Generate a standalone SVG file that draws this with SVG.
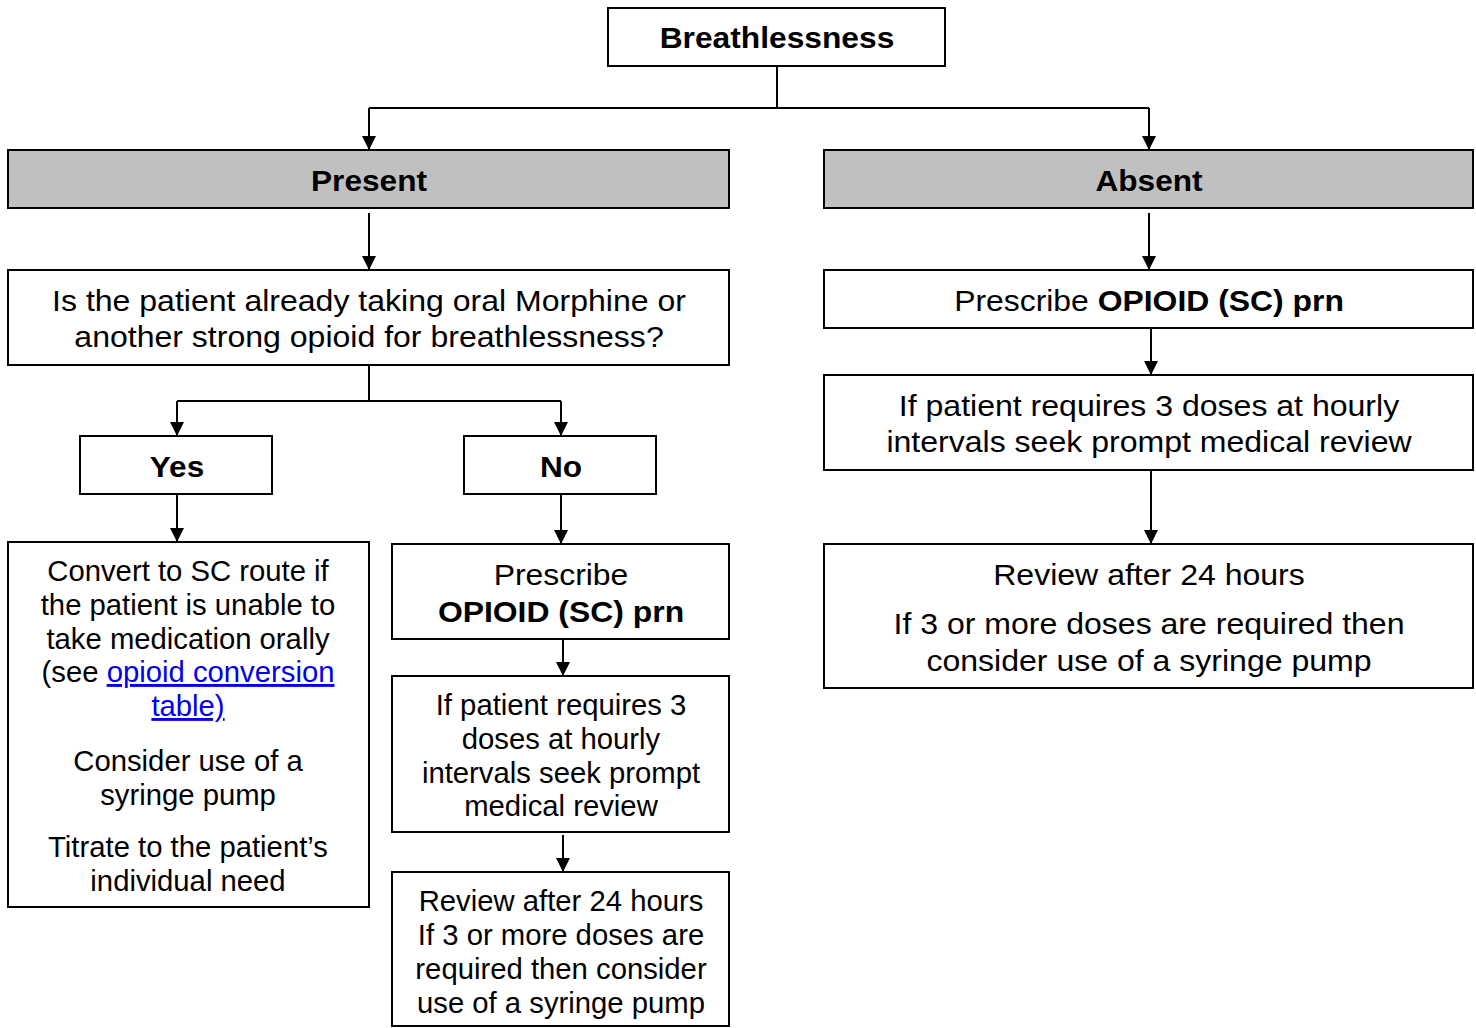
<svg xmlns="http://www.w3.org/2000/svg" width="1476" height="1028" viewBox="0 0 1476 1028">
<style>
.box{fill:#fff;stroke:#000;stroke-width:2}
.grey{fill:#c0c0c0;stroke:#000;stroke-width:2}
.t{font-family:"Liberation Sans",Arial,sans-serif;font-size:29px;fill:#000;text-anchor:middle}
.b{font-weight:bold}
.lnk{fill:#0000ee;text-decoration:underline}
.c{fill:none;stroke:#000;stroke-width:2}
</style>
<defs>
<marker id="ah" markerUnits="userSpaceOnUse" markerWidth="14" markerHeight="14" refX="14" refY="7" orient="auto" viewBox="0 0 14 14">
<path d="M0,0 L14,7 L0,14 z" fill="#000"/>
</marker>
</defs>
<rect width="1476" height="1028" fill="#fff"/>
<g id="connectors">
<path class="c" d="M777,66 V108 M369,108 H1149"/>
<path class="c" d="M369,108 V150" marker-end="url(#ah)"/>
<path class="c" d="M1149,108 V150" marker-end="url(#ah)"/>
<path class="c" d="M369,213 V270" marker-end="url(#ah)"/>
<path class="c" d="M1149,213 V270" marker-end="url(#ah)"/>
<path class="c" d="M369,365 V401 M177,401 H561"/>
<path class="c" d="M177,401 V436" marker-end="url(#ah)"/>
<path class="c" d="M561,401 V436" marker-end="url(#ah)"/>
<path class="c" d="M177,494 V542" marker-end="url(#ah)"/>
<path class="c" d="M561,494 V544" marker-end="url(#ah)"/>
<path class="c" d="M563,639 V676" marker-end="url(#ah)"/>
<path class="c" d="M563,835 V872" marker-end="url(#ah)"/>
<path class="c" d="M1151,328 V375" marker-end="url(#ah)"/>
<path class="c" d="M1151,470 V544" marker-end="url(#ah)"/>
</g>
<g id="breathlessness">
<rect class="box" x="608" y="8" width="337" height="58"/>
<text class="t b" transform="translate(777,48) scale(1.095,1)">Breathlessness</text>
</g>
<g id="present">
<rect class="grey" x="8" y="150" width="721" height="58"/>
<text class="t b" transform="translate(369,191) scale(1.09,1)">Present</text>
</g>
<g id="absent">
<rect class="grey" x="824" y="150" width="649" height="58"/>
<text class="t b" transform="translate(1149,191) scale(1.09,1)">Absent</text>
</g>
<g id="question">
<rect class="box" x="8" y="270" width="721" height="95"/>
<text class="t" transform="translate(369,311) scale(1.105,1)"><tspan x="0" y="0">Is the patient already taking oral Morphine or</tspan><tspan x="0" y="36">another strong opioid for breathlessness?</tspan></text>
</g>
<g id="yes">
<rect class="box" x="80" y="436" width="192" height="58"/>
<text class="t b" transform="translate(177,477) scale(1.09,1)">Yes</text>
</g>
<g id="no">
<rect class="box" x="464" y="436" width="192" height="58"/>
<text class="t b" transform="translate(561,477) scale(1.09,1)">No</text>
</g>
<g id="convert">
<rect class="box" x="8" y="542" width="361" height="365"/>
<text class="t" transform="translate(188,581) scale(1.01,1)"><tspan x="0" y="0">Convert to SC route if</tspan><tspan x="0" y="34">the patient is unable to</tspan><tspan x="0" y="68">take medication orally</tspan><tspan x="0" y="101">(see <tspan class="lnk">opioid conversion</tspan></tspan><tspan x="0" y="135" class="lnk">table)</tspan><tspan x="0" y="190">Consider use of a</tspan><tspan x="0" y="224">syringe pump</tspan><tspan x="0" y="276">Titrate to the patient’s</tspan><tspan x="0" y="310">individual need</tspan></text>
</g>
<g id="prescribe-left">
<rect class="box" x="392" y="544" width="337" height="95"/>
<text class="t" transform="translate(561,585) scale(1.1,1)"><tspan x="0" y="0">Prescribe</tspan><tspan x="0" y="37" class="b">OPIOID (SC) prn</tspan></text>
</g>
<g id="review-left">
<rect class="box" x="392" y="676" width="337" height="156"/>
<text class="t" transform="translate(561,715) scale(1.01,1)"><tspan x="0" y="0">If patient requires 3</tspan><tspan x="0" y="34">doses at hourly</tspan><tspan x="0" y="68">intervals seek prompt</tspan><tspan x="0" y="101">medical review</tspan></text>
</g>
<g id="after24-left">
<rect class="box" x="392" y="872" width="337" height="154"/>
<text class="t" transform="translate(561,911) scale(1.01,1)"><tspan x="0" y="0">Review after 24 hours</tspan><tspan x="0" y="34">If 3 or more doses are</tspan><tspan x="0" y="68">required then consider</tspan><tspan x="0" y="102">use of a syringe pump</tspan></text>
</g>
<g id="prescribe-right">
<rect class="box" x="824" y="270" width="649" height="58"/>
<text class="t" transform="translate(1149,311) scale(1.1,1)">Prescribe <tspan class="b">OPIOID (SC) prn</tspan></text>
</g>
<g id="review-right">
<rect class="box" x="824" y="375" width="649" height="95"/>
<text class="t" transform="translate(1149,416) scale(1.105,1)"><tspan x="0" y="0">If patient requires 3 doses at hourly</tspan><tspan x="0" y="36">intervals seek prompt medical review</tspan></text>
</g>
<g id="after24-right">
<rect class="box" x="824" y="544" width="649" height="144"/>
<text class="t" transform="translate(1149,585) scale(1.105,1)"><tspan x="0" y="0">Review after 24 hours</tspan><tspan x="0" y="49">If 3 or more doses are required then</tspan><tspan x="0" y="86">consider use of a syringe pump</tspan></text>
</g>
</svg>
